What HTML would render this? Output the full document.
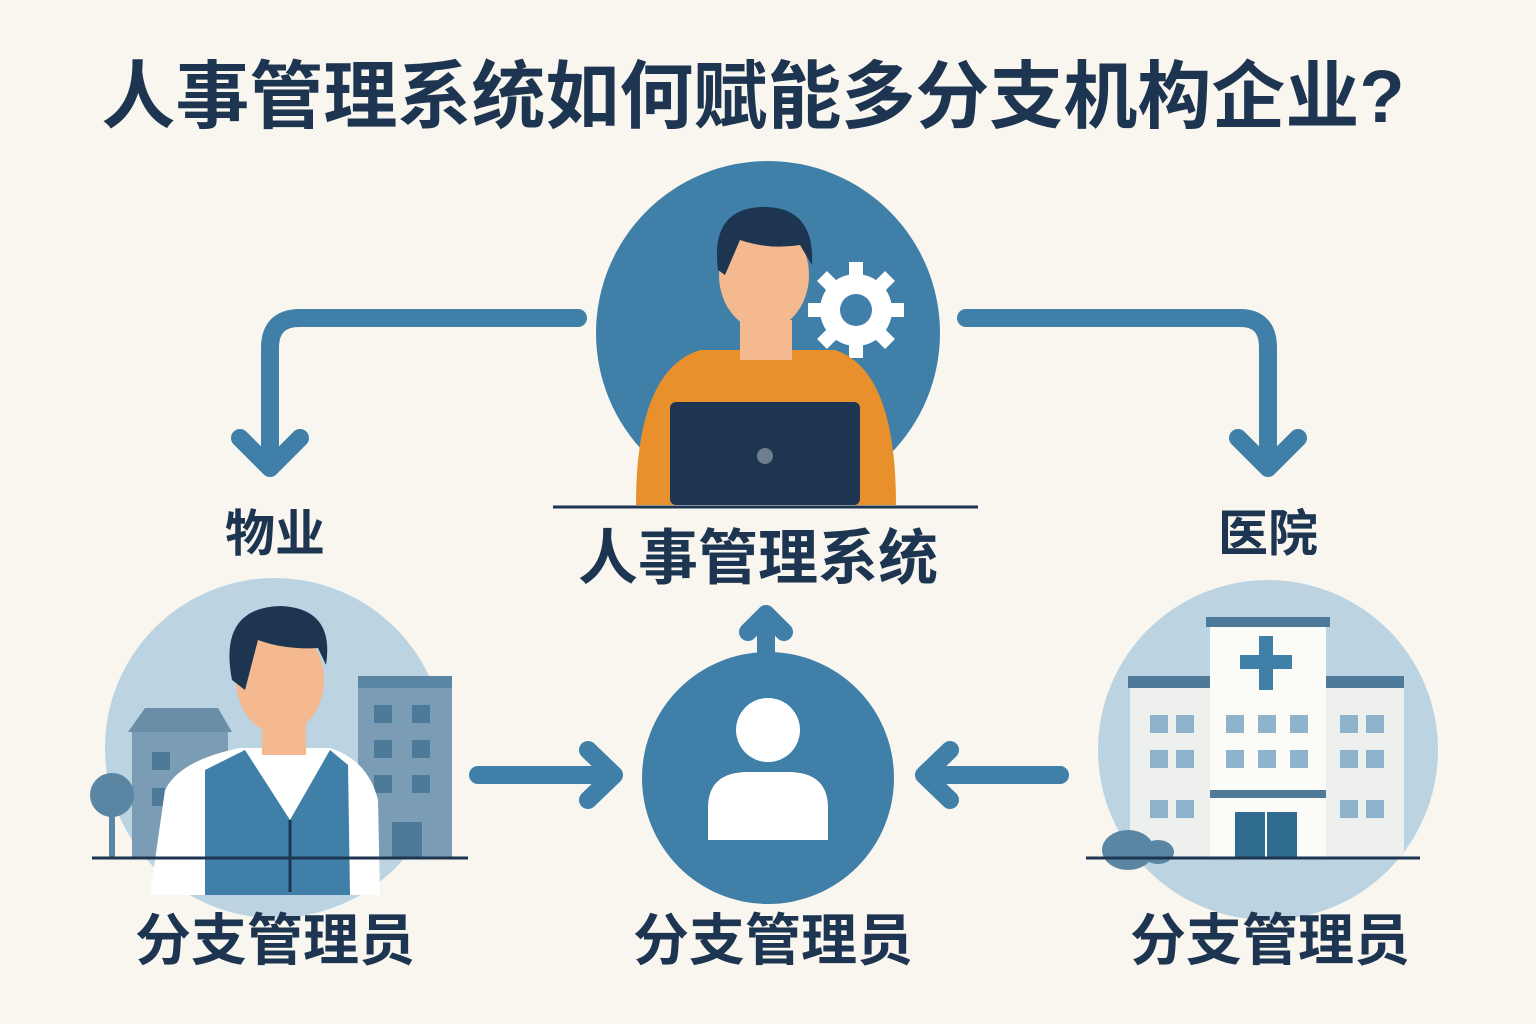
<!DOCTYPE html>
<html><head><meta charset="utf-8"><style>
html,body{margin:0;padding:0;background:#f8f6ef;}
body{width:1536px;height:1024px;position:relative;overflow:hidden;font-family:"Liberation Sans","Noto Sans CJK SC",sans-serif;color:#1d3550;}
.t{position:absolute;font-weight:bold;white-space:nowrap;text-align:center;}
</style></head><body>
<div class="t" style="left:0;width:1506px;top:52px;font-size:74px;line-height:90px;">人事管理系统如何赋能多分支机构企业?</div>
<svg width="1536" height="1024" style="position:absolute;left:0;top:0">
<!-- connectors -->
<g fill="none" stroke="#3f7fa8" stroke-width="18" stroke-linecap="round" stroke-linejoin="round">
<path d="M578 318 H300 Q270 318 270 348 V465"/>
<path d="M240 438 L270 468 L300 438"/>
<path d="M966 318 H1240 Q1268 318 1268 348 V465"/>
<path d="M1238 438 L1268 468 L1298 438"/>
<path d="M478 775 H612"/><path d="M588 750 L614 775 L588 800"/>
<path d="M1060 775 H926"/><path d="M950 750 L924 775 L950 800"/>
<path d="M766 652 V620"/><path d="M748 632 L766 614 L784 632"/>
</g>
<!-- central circle -->
<circle cx="768" cy="333" r="172" fill="#3f7fa8"/>
<g fill="#fff"><circle cx="856" cy="310" r="36"/>
<g stroke="#fff" stroke-width="14"><line x1="856" y1="262" x2="856" y2="358"/><line x1="808" y1="310" x2="904" y2="310"/><line x1="822" y1="276" x2="890" y2="344"/><line x1="890" y1="276" x2="822" y2="344"/></g>
<circle cx="856" cy="310" r="16" fill="#3f7fa8"/></g>
<path d="M636 505 Q636 370 700 350 L835 350 Q896 370 896 505Z" fill="#e8912c"/>
<rect x="740" y="320" width="52" height="40" fill="#f4b98e"/>
<ellipse cx="764" cy="275" rx="45" ry="55" fill="#f4b98e"/>
<path d="M718 270 Q710 210 760 207 Q815 205 812 265 L800 245 Q770 250 740 240 L725 275Z" fill="#1d3550"/>
<rect x="670" y="402" width="190" height="103" rx="6" fill="#1d3550"/>
<circle cx="765" cy="456" r="8" fill="#6c7f8e"/>
<line x1="553" y1="507" x2="978" y2="507" stroke="#1d3550" stroke-width="3"/>
<!-- left circle -->
<circle cx="275" cy="748" r="170" fill="#bcd4e2"/>
<rect x="132" y="730" width="96" height="128" fill="#7a9db5"/><path d="M128 732 L145 708 H218 L232 732Z" fill="#6a8ea8"/>
<rect x="358" y="678" width="94" height="180" fill="#7a9db5"/><rect x="358" y="676" width="94" height="12" fill="#5b86a3"/>
<g fill="#4d7a99"><rect x="374" y="705" width="18" height="18"/><rect x="412" y="705" width="18" height="18"/><rect x="374" y="740" width="18" height="18"/><rect x="412" y="740" width="18" height="18"/><rect x="374" y="775" width="18" height="18"/><rect x="412" y="775" width="18" height="18"/><rect x="392" y="822" width="30" height="36"/><rect x="152" y="752" width="18" height="18"/><rect x="152" y="788" width="18" height="18"/></g>
<circle cx="112" cy="795" r="22" fill="#5b86a3"/><rect x="109" y="805" width="6" height="53" fill="#5b86a3"/>
<path d="M150 895 L165 790 Q180 760 240 748 L330 748 Q368 760 378 800 L380 895Z" fill="#fff"/>
<path d="M205 770 L245 750 L290 820 L330 750 L348 765 L350 895 L205 895Z" fill="#3f7fa8"/>
<line x1="290" y1="820" x2="290" y2="892" stroke="#1d3550" stroke-width="3"/>
<rect x="262" y="715" width="44" height="40" fill="#f4b98e"/>
<ellipse cx="280" cy="680" rx="44" ry="54" fill="#f4b98e"/>
<path d="M232 680 Q218 608 280 606 Q335 608 326 665 L318 648 Q285 650 258 640 L245 690Z" fill="#1d3550"/>
<line x1="92" y1="858" x2="468" y2="858" stroke="#1d3550" stroke-width="3"/>
<!-- center bottom circle -->
<circle cx="768" cy="778" r="126" fill="#3f7fa8"/>
<circle cx="768" cy="730" r="32" fill="#fff"/>
<path d="M708 840 V808 Q708 772 748 772 H788 Q828 772 828 808 V840Z" fill="#fff"/>
<!-- right circle -->
<circle cx="1268" cy="750" r="170" fill="#bcd4e2"/>
<rect x="1130" y="680" width="80" height="178" fill="#eef0ee"/><rect x="1326" y="680" width="78" height="178" fill="#eef0ee"/>
<rect x="1128" y="676" width="82" height="12" fill="#4d7a99"/><rect x="1324" y="676" width="80" height="12" fill="#4d7a99"/>
<rect x="1210" y="625" width="116" height="233" fill="#fbfbf8"/><rect x="1206" y="617" width="124" height="10" fill="#4d7a99"/>
<rect x="1259" y="636" width="14" height="54" fill="#3f7fa8"/><rect x="1240" y="655" width="52" height="14" fill="#3f7fa8"/>
<g fill="#8fb3cc"><rect x="1150" y="715" width="18" height="18"/><rect x="1176" y="715" width="18" height="18"/><rect x="1150" y="750" width="18" height="18"/><rect x="1176" y="750" width="18" height="18"/><rect x="1150" y="800" width="18" height="18"/><rect x="1176" y="800" width="18" height="18"/>
<rect x="1340" y="715" width="18" height="18"/><rect x="1366" y="715" width="18" height="18"/><rect x="1340" y="750" width="18" height="18"/><rect x="1366" y="750" width="18" height="18"/><rect x="1340" y="800" width="18" height="18"/><rect x="1366" y="800" width="18" height="18"/>
<rect x="1226" y="715" width="18" height="18"/><rect x="1258" y="715" width="18" height="18"/><rect x="1290" y="715" width="18" height="18"/><rect x="1226" y="750" width="18" height="18"/><rect x="1258" y="750" width="18" height="18"/><rect x="1290" y="750" width="18" height="18"/></g>
<rect x="1210" y="790" width="116" height="8" fill="#4d7a99"/>
<rect x="1235" y="812" width="62" height="46" fill="#2f6a8f"/><line x1="1266" y1="812" x2="1266" y2="858" stroke="#fff" stroke-width="2"/>
<ellipse cx="1128" cy="850" rx="26" ry="20" fill="#5b86a3"/><ellipse cx="1158" cy="852" rx="16" ry="12" fill="#5b86a3"/>
<line x1="1086" y1="858" x2="1420" y2="858" stroke="#1d3550" stroke-width="3"/>
</svg>
<div class="t" style="left:568px;width:380px;top:522px;font-size:60px;line-height:74px;">人事管理系统</div>
<div class="t" style="left:175px;width:200px;top:503px;font-size:50px;line-height:62px;">物业</div>
<div class="t" style="left:1168px;width:200px;top:503px;font-size:50px;line-height:62px;">医院</div>
<div class="t" style="left:125px;width:300px;top:906px;font-size:56px;line-height:70px;">分支管理员</div>
<div class="t" style="left:623px;width:300px;top:906px;font-size:56px;line-height:70px;">分支管理员</div>
<div class="t" style="left:1120px;width:300px;top:906px;font-size:56px;line-height:70px;">分支管理员</div>
</body></html>
